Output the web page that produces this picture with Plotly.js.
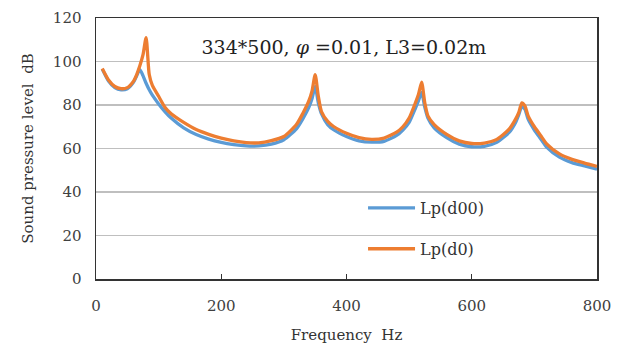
<!DOCTYPE html>
<html>
<head>
<meta charset="utf-8">
<script src="https://cdn.plot.ly/plotly-3.0.1.min.js"></script>
<style>html,body{margin:0;padding:0;background:#fff;}#chart{width:623px;height:351px;}</style>
</head>
<body>
<div id="chart"></div>
<script>
const freq = [10,20,30,40,50,60,65,70,75,80,85,90,100,110,120,140,160,180,200,220,240,260,280,300,320,330,340,345,350,355,360,370,380,400,420,440,460,480,490,500,510,515,520,525,530,540,560,580,600,620,640,660,670,675,680,685,690,700,710,720,740,760,780,800];

const lpD00 = [96.5,91,88,87,87.5,90.5,93.5,96.3,93.5,90,87,84.5,80.5,77,74,69.5,66.4,64.3,62.8,61.8,61.2,61.2,62,64,69,73.5,79,83,88.5,81,76,71,68.5,65.5,63.5,62.9,63.3,66,68.5,72,78.5,82,85.8,79,74,69.5,65,62,60.8,61,62.8,67.5,72,75.5,79.4,78,73.5,68.5,64.5,60.5,56,53.5,52,50.5];

const lpD0 = [96.8,91.5,88.5,87.5,88,91,94,98,103,111,94,89,84,79,76,72,68.7,66.5,64.8,63.5,62.7,62.6,63.6,65.5,71,76,82,86.5,94,84,77,72.5,70,67,65,64.2,64.8,67.5,70,74,81,85,90.5,81,75,71,66.5,63.5,62.3,62.5,64.2,69,73.5,76.5,81,79.5,75,70,66,62,57.5,55,53.3,51.8];

const seriesNames = ['Lp(d00)', 'Lp(d0)'];
const xTicks = [0,200,400,600,800];
const yTicks = [0,20,40,60,80,100,120];

const serif = 'DejaVu Serif, Liberation Serif, serif';

const traces = [
  {x: freq, y: lpD00, name: seriesNames[0], type: 'scatter', mode: 'lines',
   line: {color: '#5B9BD5', width: 3.3, shape: 'spline', smoothing: 0.6}, legendgroup: 'a'},
  {x: freq, y: lpD0, name: seriesNames[1], type: 'scatter', mode: 'lines',
   line: {color: '#ED7D31', width: 3.3, shape: 'spline', smoothing: 0.6}, legendgroup: 'b'}
];

const layout = {
  width: 623, height: 351,
  margin: {l: 96, r: 26, t: 18, b: 72},
  paper_bgcolor: '#fff', plot_bgcolor: '#fff',
  font: {family: serif, color: '#333'},
  title: {text: '334*500, <i>φ</i> =0.01, L3=0.02m', font: {family: serif, size: 19, color: '#222'},
          x: 0.552, xanchor: 'center', y: 0.866, yanchor: 'middle', xref: 'container', yref: 'container'},
  xaxis: {range: [0, 800], tickvals: xTicks, ticktext: xTicks.map(String),
          showgrid: false, zeroline: false, showline: true, mirror: true, linecolor: '#333', linewidth: 1.5,
          ticks: 'inside', ticklen: 5, tickcolor: '#333', tickwidth: 1,
          tickfont: {family: serif, size: 15, color: '#404040'}, ticklabelstandoff: 12,
          title: {text: 'Frequency  Hz', font: {family: serif, size: 15, color: '#333'}, standoff: 16}},
  yaxis: {range: [0, 120], tickvals: yTicks, ticktext: yTicks.map(String),
          showgrid: true, gridcolor: '#BFBFBF', gridwidth: 1.3, zeroline: false,
          showline: true, mirror: true, linecolor: '#333', linewidth: 1.5, ticks: '',
          tickfont: {family: serif, size: 15, color: '#404040'}, ticklabelstandoff: 10,
          title: {text: 'Sound pressure level  dB', font: {family: serif, size: 15, color: '#333'}, standoff: 15}},
  showlegend: true,
  legend: {x: 0.533, xanchor: 'left', y: 0.337, yanchor: 'top', bgcolor: 'rgba(0,0,0,0)',
           font: {family: serif, size: 16, color: '#333'}, tracegroupgap: 17, itemwidth: 47}
};

Plotly.newPlot('chart', traces, layout, {displayModeBar: false, staticPlot: true});
</script>
</body>
</html>
